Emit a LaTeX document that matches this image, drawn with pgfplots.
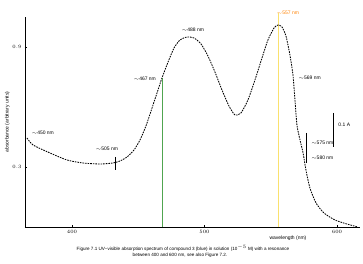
\documentclass[border=0pt]{standalone}
\usepackage{fontspec}
\setmainfont{Liberation Sans}
\usepackage{pgfplots}
\pgfplotsset{compat=1.18}
\definecolor{lgreen}{RGB}{80,165,80}
\definecolor{pyellow}{RGB}{250,225,110}
\pgfplotstableread{
nm A
366.0 0.445
370.6 0.41
383.4 0.37
396.2 0.335
408.3 0.32
421.1 0.315
430.9 0.32
436.2 0.33
441.5 0.35
446.8 0.385
451.3 0.435
455.8 0.505
460.4 0.595
464.9 0.685
467.9 0.745
472.5 0.825
477.0 0.895
481.5 0.935
486.8 0.95
492.1 0.945
497.4 0.915
502.6 0.855
507.9 0.775
513.2 0.685
518.5 0.605
523.0 0.56
527.5 0.57
532.8 0.635
538.1 0.735
543.4 0.845
547.9 0.935
552.5 0.995
555.5 1.01
558.5 1.0
561.5 0.955
564.5 0.86
566.8 0.76
568.3 0.635
569.8 0.51
572.1 0.435
574.3 0.375
576.6 0.285
579.6 0.195
584.2 0.12
590.2 0.07
598.5 0.035
607.5 0.015
615.8 0.0
}\spectrum
\begin{document}
\begin{tikzpicture}
\path[use as bounding box] (-25bp,-37bp) rectangle (338bp,227bp);
\begin{axis}[at={(0,0)}, anchor=south west, scale only axis,
  width=335bp, height=210bp,
  xmin=364.5, xmax=617.4, ymin=0, ymax=1.05,
  axis lines*=left, clip=false,
  xtick={400,500,600}, ytick={0.3,0.9},
  tick label style={font=\fontsize{5}{6}\selectfont},
  major tick length=2bp, tick style={black},
  axis line style={black, line width=0.7pt},
  ylabel={absorbance (arbitrary units)},
  ylabel style={font=\fontsize{5}{6}\selectfont, yshift=-4bp}]
\addplot[lgreen, line width=0.8pt] coordinates {(467.9,0) (467.9,0.745)};
\addplot[pyellow, line width=1.5pt] coordinates {(555.8,0) (555.8,1.07)};
\addplot[black, line width=0.85pt, dash pattern=on 1.6pt off 1pt, smooth, tension=0.4] table[x=nm,y=A] {\spectrum};
\addplot[black, line width=0.6pt] coordinates {(432.5,0.35) (432.5,0.285)};
\addplot[black, line width=0.6pt] coordinates {(577,0.47) (577,0.32)};
\addplot[black, line width=0.6pt] coordinates {(597.5,0.57) (597.5,0.40)};
\begin{scope}[font=\fontsize{5}{6}\selectfont]
\node at (axis cs:491.3,0.985) {$\sim$488 nm};
\node[orange] at (axis cs:563,1.07) {$\sim$557 nm};
\node at (axis cs:455,0.74) {$\sim$467 nm};
\node at (axis cs:378,0.47) {$\sim$450 nm};
\node at (axis cs:426.4,0.39) {$\sim$505 nm};
\node[anchor=west] at (axis cs:568.5,0.745) {$\sim$569 nm};
\node[anchor=west] at (axis cs:578,0.42) {$\sim$575 nm};
\node[anchor=west] at (axis cs:578,0.345) {$\sim$580 nm};
\node[anchor=west] at (axis cs:598.5,0.51) {0.1 A};
\node at (axis cs:563,0) [yshift=-11bp] {wavelength (nm)};
\end{scope}
\end{axis}
\begin{scope}[font=\fontsize{4.6}{5.5}\selectfont]
\node at (158bp,-21bp) {Figure 7.1 UV--visible absorption spectrum of compound 3 (blue) in solution (10$^{-5}$ M) with a resonance};
\node at (155bp,-28bp) {between 400 and 600 nm, see also Figure 7.2.};
\end{scope}
\end{tikzpicture}
\end{document}
